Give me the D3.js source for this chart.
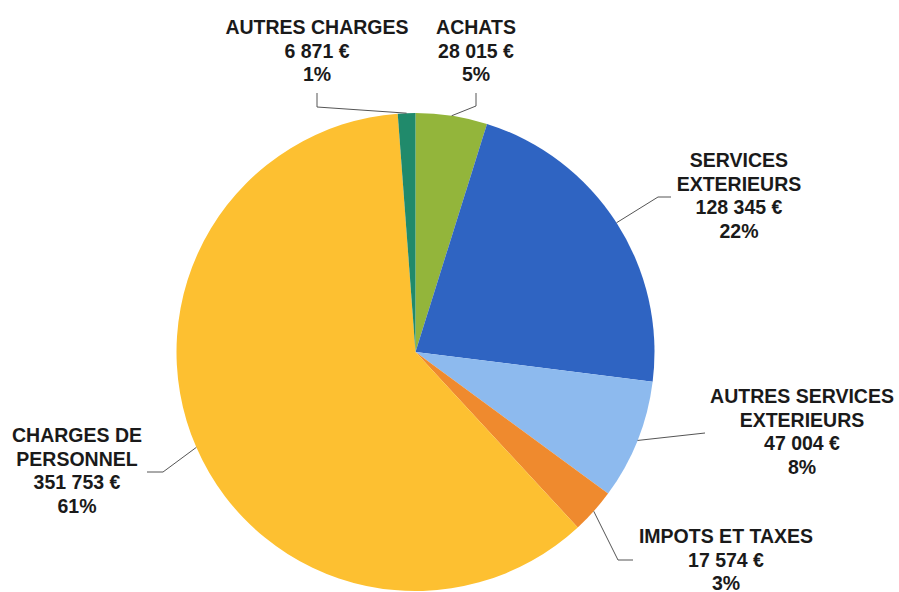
<!DOCTYPE html>
<html>
<head>
<meta charset="utf-8">
<script src="https://cdn.jsdelivr.net/npm/d3@7"></script>
<style>
  body { margin: 0; background: #fff; }
  text { font-family: "Liberation Sans", Arial, sans-serif; font-weight: bold; fill: #1a1a1a; }
</style>
</head>
<body>
<div id="chart"></div>
<script>
// data, in the order the slices are drawn (clockwise from 12 o'clock)
var categories = ["ACHATS", "SERVICES EXTERIEURS", "AUTRES SERVICES EXTERIEURS", "IMPOTS ET TAXES", "CHARGES DE PERSONNEL", "AUTRES CHARGES"];
var labelLines = [["ACHATS"], ["SERVICES", "EXTERIEURS"], ["AUTRES SERVICES", "EXTERIEURS"], ["IMPOTS ET TAXES"], ["CHARGES DE", "PERSONNEL"], ["AUTRES CHARGES"]];
var values = [28015, 128345, 47004, 17574, 351753, 6871];
var colors = ["#93b53b", "#2f64c2", "#8dbaee", "#ef8a2e", "#fdc031", "#208a6b"];

// label placement: text centre x, first baseline y, leader elbow point
var labelLayout = [
  {x: 476, y: 34,  elbow: [476, 106], start: [476, 93]},
  {x: 739, y: 167, elbow: [658, 197], start: [671, 197]},
  {x: 802, y: 403, elbow: null,       start: [705, 433]},
  {x: 726, y: 543, elbow: [618, 560], start: [633, 560]},
  {x: 77,  y: 442, elbow: [163, 472], start: [147, 472]},
  {x: 317, y: 34,  elbow: [317, 107], start: [317, 93]}
];

var width = 899, height = 592;
var cx = 415.5, cy = 352, radius = 239;

var svg = d3.select("#chart").append("svg")
    .attr("width", width)
    .attr("height", height);

var total = d3.sum(values);
var fmt = d3.formatLocale({decimal: ",", thousands: " ", grouping: [3], currency: ["", " €"]}).format("$,d");

var pie = d3.pie().sort(null).value(function (d) { return d; });
var arcs = pie(values);
var arc = d3.arc().innerRadius(0).outerRadius(radius);
var edge = d3.arc().innerRadius(radius).outerRadius(radius);

var g = svg.append("g").attr("transform", "translate(" + cx + "," + cy + ")");

g.selectAll("path.slice")
    .data(arcs)
    .enter().append("path")
    .attr("class", "slice")
    .attr("d", arc)
    .style("fill", function (d, i) { return colors[i]; });

// leader lines
svg.selectAll("polyline.leader")
    .data(arcs)
    .enter().append("polyline")
    .attr("class", "leader")
    .attr("points", function (d, i) {
      var p = edge.centroid(d);
      var L = labelLayout[i];
      var pts = [L.start];
      if (L.elbow) pts.push(L.elbow);
      pts.push([p[0] + cx, p[1] + cy]);
      return pts.map(function (q) { return q.join(","); }).join(" ");
    })
    .style("fill", "none")
    .style("stroke", "#555")
    .style("stroke-width", 1);

// labels
svg.selectAll("text.lbl")
    .data(arcs)
    .enter().append("text")
    .attr("class", "lbl")
    .attr("text-anchor", "middle")
    .style("font-size", "19.5px")
    .each(function (d, i) {
      var L = labelLayout[i];
      var lines = labelLines[i].concat([fmt(values[i]), Math.round(values[i] / total * 100) + "%"]);
      var t = d3.select(this);
      lines.forEach(function (s, k) {
        t.append("tspan").attr("x", L.x).attr("y", L.y + k * 23.7).text(s);
      });
    });
</script>
</body>
</html>
